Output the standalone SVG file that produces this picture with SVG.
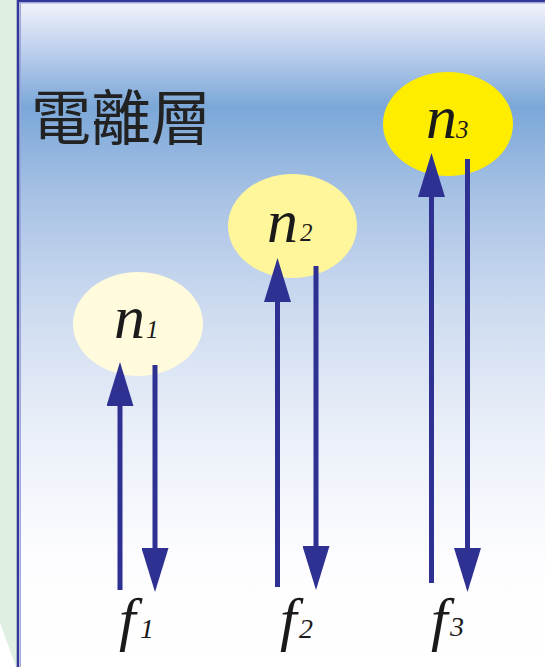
<svg xmlns="http://www.w3.org/2000/svg" width="545" height="667" viewBox="0 0 545 667">
  <defs>
    <linearGradient id="sky" gradientUnits="userSpaceOnUse" x1="0" y1="0" x2="0" y2="667">
      <stop offset="0" stop-color="#f3f4fb"/>
      <stop offset="0.06" stop-color="#c9d7f0"/>
      <stop offset="0.16" stop-color="#7ba7d8"/>
      <stop offset="0.30" stop-color="#a9c3e5"/>
      <stop offset="0.45" stop-color="#cbd9ef"/>
      <stop offset="0.63" stop-color="#e8eef8"/>
      <stop offset="0.84" stop-color="#fdfdff"/>
      <stop offset="1" stop-color="#ffffff"/>
    </linearGradient>
    <marker id="head" markerUnits="userSpaceOnUse" markerWidth="44" markerHeight="27" refX="0" refY="13.5" orient="auto" viewBox="0 0 44 27">
      <path d="M0,0 L44,13.5 L0,27 Z" fill="#2e3192"/>
    </marker>
  </defs>
  <style>
    .arrow { stroke: #2e3192; stroke-width: 5; fill: none; marker-end: url(#head); }
    .lbl { font-family: "Liberation Serif", "Times New Roman", serif; font-style: italic; fill: #1a1a1a; }
    .cjk { font-family: "Noto Sans CJK TC", "Noto Sans CJK JP", sans-serif; fill: #222222; }
  </style>

  <g id="background">
    <rect x="0" y="0" width="545" height="667" fill="#ffffff"/>
    <polygon points="0,0 18,0 18,667 16,667 0,623" fill="#dff0e2"/>
    <rect x="18" y="1" width="527" height="666" fill="url(#sky)"/>
    <line x1="20.5" y1="3" x2="20.5" y2="667" stroke="#9ea6de" stroke-width="1"/>
    <line x1="20" y1="3" x2="545" y2="3" stroke="#9ea6de" stroke-width="1"/>
    <line x1="18" y1="0" x2="18" y2="667" stroke="#34379a" stroke-width="2.6"/>
    <line x1="17" y1="1" x2="545" y2="1" stroke="#34379a" stroke-width="2.4"/>
  </g>

  <g id="title">
    <text class="cjk" x="31" y="140" font-size="60">電離層</text>
  </g>

  <g id="n1">
    <ellipse cx="138" cy="324" rx="65" ry="52" fill="#fffbdc"/>
    <text class="lbl" x="114" y="338" font-size="62">n</text>
    <text class="lbl" x="146" y="338" font-size="25">1</text>
  </g>
  <g id="n2">
    <ellipse cx="292.5" cy="226" rx="64.5" ry="52" fill="#fff59a"/>
    <text class="lbl" x="267" y="242" font-size="62">n</text>
    <text class="lbl" x="300" y="241" font-size="25">2</text>
  </g>
  <g id="n3">
    <ellipse cx="448" cy="124" rx="65" ry="52" fill="#ffed00"/>
    <text class="lbl" x="426" y="138" font-size="62">n</text>
    <text class="lbl" x="456" y="138" font-size="25">3</text>
  </g>

  <g id="f1">
    <text class="lbl" x="119" y="639" font-size="60">f</text>
    <text class="lbl" x="140" y="638" font-size="28">1</text>
  </g>
  <g id="f2">
    <text class="lbl" x="280" y="639" font-size="60">f</text>
    <text class="lbl" x="299" y="638" font-size="28">2</text>
  </g>
  <g id="f3">
    <text class="lbl" x="431" y="639" font-size="60">f</text>
    <text class="lbl" x="450" y="636" font-size="28">3</text>
  </g>

  <g id="connectors">
    <line class="arrow" x1="120" y1="590" x2="120" y2="406"/>
    <line class="arrow" x1="155" y1="365" x2="155" y2="548"/>
    <line class="arrow" x1="277.5" y1="587" x2="277.5" y2="302"/>
    <line class="arrow" x1="316" y1="266" x2="316" y2="546"/>
    <line class="arrow" x1="431.5" y1="583" x2="431.5" y2="197"/>
    <line class="arrow" x1="467.5" y1="159" x2="467.5" y2="548"/>
  </g>
</svg>
